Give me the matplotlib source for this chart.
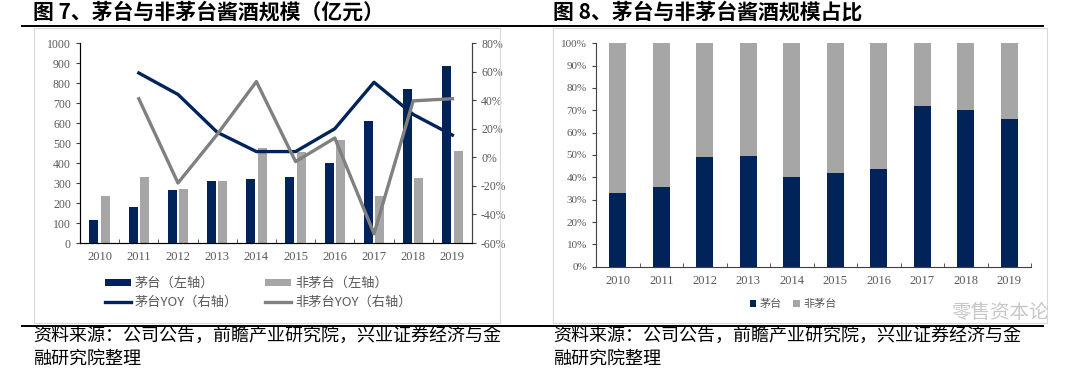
import numpy as np
import matplotlib
matplotlib.use("Agg")
import matplotlib.pyplot as plt
from matplotlib.patches import Rectangle
from matplotlib.lines import Line2D
from matplotlib.ticker import FuncFormatter

plt.rcParams['font.family'] = ['Liberation Serif', 'Noto Sans CJK SC', 'DejaVu Sans']

years = ['2010', '2011', '2012', '2013', '2014', '2015', '2016', '2017', '2018', '2019']
moutai = [114, 182, 263, 308, 318, 331, 398, 610, 768, 887]
non_moutai = [235, 332, 268, 310, 475, 453, 515, 235, 327, 458]
moutai_yoy = [None, 59.0, 44.0, 17.5, 4.0, 4.0, 20.0, 52.5, 30.0, 15.5]
non_moutai_yoy = [None, 41.0, -18.0, 16.0, 53.0, -3.0, 13.5, -53.5, 39.5, 41.0]
moutai_share = [32.8, 35.5, 49.2, 49.6, 40.2, 42.1, 43.6, 72.1, 70.2, 66.0]

NAVY = '#00245a'
GREY_BAR = '#a6a6a6'
GREY_LINE = '#808080'
TICK_C = '#595959'
CJK = ['Noto Sans CJK SC', 'DejaVu Sans']

fig = plt.figure(figsize=(10.8, 3.76), dpi=100)
W, H = 1080, 376


def fx(px):
    return px / W


def fy(py):
    return 1 - py / H


# frames, rules, titles, footers
for x0, x1 in [(34, 500), (553, 1047)]:
    fig.patches.append(Rectangle((fx(x0), fy(323)), fx(x1 - x0), (323 - 28) / H,
                                 transform=fig.transFigure, fill=False,
                                 edgecolor='#d9d9d9', linewidth=0.8))
for x0, x1 in [(22, 540), (540, 1043)]:
    for y in (25.5, 326):
        fig.add_artist(Line2D([fx(x0), fx(x1)], [fy(y), fy(y)], color='black',
                              linewidth=1.4, transform=fig.transFigure))

fig.text(fx(33), fy(12), '图 7、茅台与非茅台酱酒规模（亿元）', fontsize=15,
         fontweight='bold', family=CJK, va='center', ha='left')
fig.text(fx(553), fy(12), '图 8、茅台与非茅台酱酒规模占比', fontsize=15,
         fontweight='bold', family=CJK, va='center', ha='left')
for x0 in (33, 553):
    fig.text(fx(x0), fy(336), '资料来源：公司公告，前瞻产业研究院，兴业证券经济与金',
             fontsize=13, family=CJK, va='center', ha='left')
    fig.text(fx(x0), fy(359), '融研究院整理', fontsize=13, family=CJK,
             va='center', ha='left')
fig.text(fx(1000), fy(312), '零售资本论', fontsize=14, family=CJK, color='#9a9a9a',
         alpha=0.55, va='center', ha='center')

# ---- left chart ----
x = np.arange(len(years))
ax = fig.add_axes([fx(80), fy(243), fx(472 - 80), (243 - 43) / H])
ax.bar(x - 0.147, moutai, width=0.23, color=NAVY, label='茅台（左轴）')
ax.bar(x + 0.147, non_moutai, width=0.23, color=GREY_BAR, label='非茅台（左轴）')
ax.set_ylim(0, 1000)
ax.set_yticks(np.arange(0, 1001, 100))
ax.set_xlim(-0.5, 9.5)
ax.set_xticks(x)
ax.set_xticklabels(years)
ax.set_xticks(np.arange(-0.5, 10, 1), minor=True)
ax.tick_params(axis='x', which='major', length=0, labelsize=9, colors=TICK_C, pad=6)
ax.tick_params(axis='x', which='minor', direction='in', length=3, color='#404040')
ax.tick_params(axis='y', labelsize=8.5, colors=TICK_C, length=3, color='#404040')
ax.spines['top'].set_visible(False)
for s in ('left', 'bottom', 'right'):
    ax.spines[s].set_color('#404040')

ax2 = ax.twinx()
yx = x[1:]
ax2.plot(yx, moutai_yoy[1:], color=NAVY, linewidth=2.4, label='茅台YOY（右轴）')
ax2.plot(yx, non_moutai_yoy[1:], color=GREY_LINE, linewidth=2.4, label='非茅台YOY（右轴）')
ax2.set_ylim(-60, 80)
ax2.set_yticks(np.arange(-60, 81, 20))
ax2.yaxis.set_major_formatter(FuncFormatter(lambda v, p: f'{v:.0f}%'))
ax2.tick_params(axis='y', labelsize=8.5, colors=TICK_C, length=3, color='#404040')
ax2.spines['top'].set_visible(False)
ax2.spines['right'].set_color('#404040')

h1, l1 = ax.get_legend_handles_labels()
h2, l2 = ax2.get_legend_handles_labels()
handles = [h1[0], h2[0], h1[1], h2[1]]
labels = [l1[0], l2[0], l1[1], l2[1]]
fig.legend(handles, labels, ncol=2, loc='center', bbox_to_anchor=(fx(258), fy(293)),
           frameon=False, prop={'family': CJK, 'size': 9.5}, labelcolor=TICK_C,
           handlelength=2.0, handleheight=0.45, columnspacing=2.0, labelspacing=0.45,
           handletextpad=0.3)

# ---- right chart ----
share = np.array(moutai_share)
rest = 100 - share
bx = fig.add_axes([fx(596), fy(266.7), fx(1031 - 596), (266.7 - 43.3) / H])
bx.bar(x, share, width=0.39, color=NAVY, label='茅台')
bx.bar(x, rest, bottom=share, width=0.39, color=GREY_BAR, label='非茅台')
bx.set_ylim(0, 100)
bx.set_yticks(np.arange(0, 101, 10))
bx.yaxis.set_major_formatter(FuncFormatter(lambda v, p: f'{v:.0f}%'))
bx.set_xlim(-0.5, 9.5)
bx.set_xticks(x)
bx.set_xticklabels(years)
bx.set_xticks(np.arange(-0.5, 10, 1), minor=True)
bx.tick_params(axis='x', which='major', length=0, labelsize=9, colors=TICK_C, pad=6)
bx.tick_params(axis='x', which='minor', direction='in', length=3, color='#404040')
bx.tick_params(axis='y', labelsize=8, colors=TICK_C, length=3, color='#404040')
for s in ('top', 'right'):
    bx.spines[s].set_visible(False)
for s in ('left', 'bottom'):
    bx.spines[s].set_color('#404040')
bx.legend(ncol=2, loc='center', bbox_to_anchor=(fx(793), fy(304)),
          bbox_transform=fig.transFigure, frameon=False,
          prop={'family': CJK, 'size': 8}, labelcolor=TICK_C,
          handlelength=0.6, handleheight=0.6, handletextpad=0.3, columnspacing=1.0)

fig.savefig('out.png', dpi=100, facecolor='white')
